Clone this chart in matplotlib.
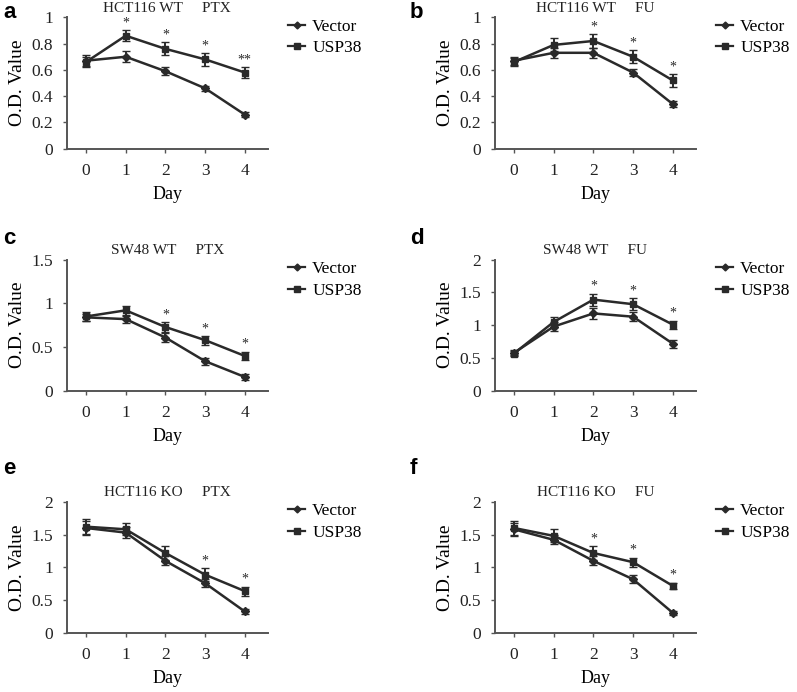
import matplotlib
matplotlib.use("Agg")
import matplotlib.pyplot as plt

# data (day 0..4)
days = [0, 1, 2, 3, 4]

titles = ["HCT116 WT     PTX", "HCT116 WT     FU",
          "SW48 WT     PTX", "SW48 WT     FU",
          "HCT116 KO     PTX", "HCT116 KO     FU"]
panel_letters = ["a", "b", "c", "d", "e", "f"]

usp38 = [
    [0.66, 0.86, 0.76, 0.68, 0.58],
    [0.66, 0.79, 0.82, 0.70, 0.52],
    [0.85, 0.92, 0.73, 0.58, 0.40],
    [0.57, 1.05, 1.39, 1.32, 1.01],
    [1.62, 1.58, 1.22, 0.89, 0.64],
    [1.60, 1.48, 1.22, 1.08, 0.72],
]
usp38_err = [
    [0.04, 0.04, 0.05, 0.05, 0.04],
    [0.03, 0.05, 0.05, 0.05, 0.05],
    [0.05, 0.05, 0.06, 0.05, 0.05],
    [0.04, 0.08, 0.09, 0.09, 0.06],
    [0.11, 0.09, 0.11, 0.10, 0.07],
    [0.11, 0.10, 0.11, 0.07, 0.05],
]
vector = [
    [0.67, 0.70, 0.59, 0.46, 0.26],
    [0.67, 0.73, 0.73, 0.58, 0.34],
    [0.84, 0.82, 0.61, 0.34, 0.16],
    [0.58, 0.98, 1.18, 1.13, 0.72],
    [1.60, 1.53, 1.10, 0.76, 0.33],
    [1.58, 1.42, 1.10, 0.82, 0.31],
]
vector_err = [
    [0.04, 0.04, 0.03, 0.02, 0.02],
    [0.03, 0.04, 0.04, 0.03, 0.02],
    [0.04, 0.04, 0.05, 0.04, 0.03],
    [0.04, 0.07, 0.08, 0.07, 0.06],
    [0.10, 0.08, 0.07, 0.06, 0.04],
    [0.10, 0.07, 0.07, 0.06, 0.03],
]
stars = [
    ["", "*", "*", "*", "**"],
    ["", "", "*", "*", "*"],
    ["", "", "*", "*", "*"],
    ["", "", "*", "*", "*"],
    ["", "", "", "*", "*"],
    ["", "", "*", "*", "*"],
]
ymax = [1, 1, 1.5, 2, 2, 2]
yticks = [
    [0, 0.2, 0.4, 0.6, 0.8, 1],
    [0, 0.2, 0.4, 0.6, 0.8, 1],
    [0, 0.5, 1, 1.5],
    [0, 0.5, 1, 1.5, 2],
    [0, 0.5, 1, 1.5, 2],
    [0, 0.5, 1, 1.5, 2],
]

plt.rcParams['font.family'] = ['Liberation Serif', 'DejaVu Serif']
plt.rcParams['font.size'] = 12.5

col = '#2a2a2a'
W, H = 797, 692
fig = plt.figure(figsize=(W / 100, H / 100), dpi=100)

lefts = [0.084, 0.621]
bottoms = [0.785, 0.435, 0.085]
width, height = 0.252, 0.19
letter_x = [3, 410]
letter_top = [2, 228, 458]

for i in range(6):
	r, c = divmod(i, 2)
	ax = fig.add_axes([lefts[c], bottoms[r], width, height])

	ax.errorbar(days, usp38[i], yerr=usp38_err[i], color=col, marker='s', ms=5,
		lw=1.8, capsize=3, elinewidth=1.4, zorder=3)
	ax.errorbar(days, vector[i], yerr=vector_err[i], color=col, marker='D', ms=4,
		lw=1.8, capsize=3, elinewidth=1.4, zorder=3)

	# legend entries without the error bars
	ax.plot([], [], color=col, marker='D', ms=3.5, lw=1.6, label='Vector')
	ax.plot([], [], color=col, marker='s', ms=5, lw=1.6, label='USP38')

	# significance marks just above the upper curve's error bar
	for d, s in enumerate(stars[i]):
		if s:
			top = usp38[i][d] + usp38_err[i][d]
			ax.text(days[d], top + ymax[i] * 0.005, s, ha='center', va='bottom',
				fontsize=10, color=col)

	ax.set_xlim(-0.48, 4.58)
	ax.set_ylim(0, ymax[i])
	ax.set_xticks(days)
	ax.set_yticks(yticks[i])
	ax.set_yticklabels(['%g' % t for t in yticks[i]])
	ax.spines['top'].set_visible(False)
	ax.spines['right'].set_visible(False)
	for sp in ['left', 'bottom']:
		ax.spines[sp].set_color('#555555')
		ax.spines[sp].set_linewidth(1.4)
	ax.tick_params(colors='#555555', labelcolor='#222222', length=3, width=1.0,
		pad=7, labelsize=12.5)
	ax.set_xlabel('Day', labelpad=5, fontsize=13)
	ax.set_ylabel('O.D. Value', labelpad=4, fontsize=14)
	ax.set_title(titles[i], fontsize=11, pad=4, color='#222222')

	ax.legend(loc='upper left', bbox_to_anchor=(1.04, 1.08), frameon=False,
		handlelength=1.0, handletextpad=0.4, labelspacing=0.3, borderpad=0.2,
		fontsize=12.5)

	fig.text(letter_x[c] / W, 1 - letter_top[r] / H, panel_letters[i],
		fontfamily='Liberation Sans', fontweight='bold', fontsize=16, va='top')

fig.savefig('out.png', dpi=100)
